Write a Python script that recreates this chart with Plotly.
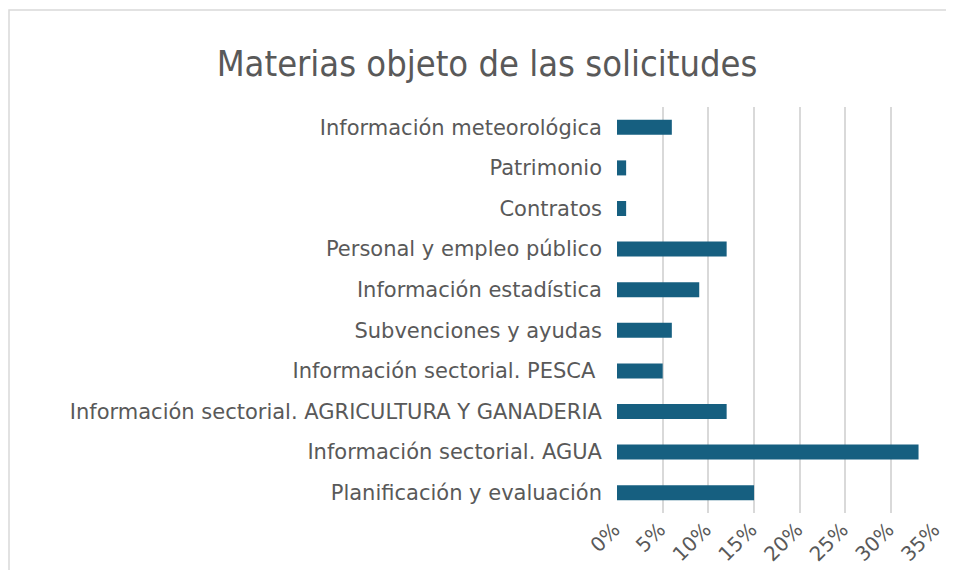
import plotly.graph_objects as go

categories = [
    "Planificación y evaluación",
    "Información sectorial. AGUA",
    "Información sectorial. AGRICULTURA Y GANADERIA",
    "Información sectorial. PESCA ",
    "Subvenciones y ayudas",
    "Información estadística",
    "Personal y empleo público",
    "Contratos",
    "Patrimonio",
    "Información meteorológica",
]
values = [0.15, 0.33, 0.12, 0.05, 0.06, 0.09, 0.12, 0.01, 0.01, 0.06]
tick_vals = [0, 0.05, 0.10, 0.15, 0.20, 0.25, 0.30, 0.35]

FONT = "DejaVu Sans, sans-serif"
TFONT = "DejaVu Sans Condensed, DejaVu Sans, sans-serif"
GRAY = "#595959"

fig = go.Figure(go.Bar(
    x=values, y=categories, orientation="h",
    marker=dict(color="#165f80", line=dict(width=0)),
    width=0.37,
))

OFF = 8  # page body margin
W, H = 954 - 2 * OFF, 578 - 2 * OFF
L, T = 617 - OFF, 107 - OFF
pw, ph = 320, 406
R, B = W - L - pw, H - T - ph

fig.update_layout(
    width=W, height=H,
    margin=dict(l=L, r=R, t=T, b=B, autoexpand=False),
    paper_bgcolor="white", plot_bgcolor="white",
    font=dict(family=FONT, color=GRAY),
    showlegend=False,
    title=dict(text="Materias objeto de las solicitudes", x=(487 - OFF) / W, xref="container",
               xanchor="center", y=1 - (63 - OFF) / H, yanchor="middle",
               font=dict(size=36, color=GRAY, family=TFONT)),
    xaxis=dict(range=[0, 0.3502], tickvals=tick_vals, tickformat=".0%",
               tickangle=-45, showgrid=True, gridcolor="#d9d9d9", gridwidth=1.5,
               zeroline=False, showline=False, ticks="", automargin=False,
               ticklabeloverflow="allow", ticklabelshift=-3,
               tickfont=dict(size=20, color=GRAY, family=FONT)),
    yaxis=dict(showgrid=False, zeroline=False, showline=False, ticks="",
               ticklabelstandoff=14, automargin=False,
               tickfont=dict(size=21, color=GRAY, family=FONT)),
    shapes=[dict(type="rect", xref="paper", yref="paper",
                 x0=(1 - L) / pw, x1=(W + 20 - L) / pw,
                 y0=-(H + 20 - T - ph) / ph, y1=(T + ph - (10 - OFF)) / ph,
                 line=dict(color="#d9d9d9", width=1.5), fillcolor="rgba(0,0,0,0)",
                 layer="below")],
)

fig.write_html("out.html")
